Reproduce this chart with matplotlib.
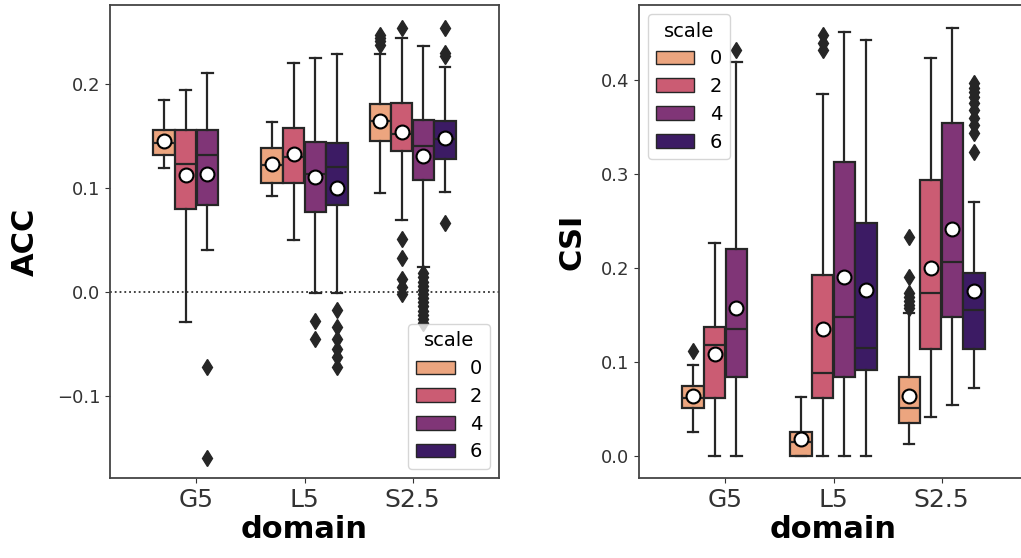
import colorsys
import matplotlib
matplotlib.use("Agg")
import matplotlib.pyplot as plt
from matplotlib.patches import Patch
from matplotlib import colormaps

# ---------------- data ----------------
domains = ["G5", "L5", "S2.5"]
scales = ["0", "2", "4", "6"]

# ACC statistics: rows = domain, columns = scale (None = no data)
acc_whislo = [[0.119, -0.029, 0.040, None],
              [0.092, 0.050, -0.001, -0.001],
              [0.095, 0.069, 0.024, 0.096]]
acc_q1 = [[0.132, 0.080, 0.084, None],
          [0.105, 0.105, 0.077, 0.084],
          [0.145, 0.136, 0.108, 0.128]]
acc_med = [[0.143, 0.123, 0.132, None],
           [0.122, 0.130, 0.113, 0.120],
           [0.164, 0.152, 0.140, 0.147]]
acc_q3 = [[0.156, 0.156, 0.156, None],
          [0.138, 0.158, 0.144, 0.143],
          [0.181, 0.182, 0.165, 0.164]]
acc_whishi = [[0.185, 0.194, 0.211, None],
              [0.163, 0.220, 0.225, 0.229],
              [0.229, 0.244, 0.237, 0.216]]
acc_mean = [[0.145, 0.112, 0.113, None],
            [0.123, 0.133, 0.111, 0.100],
            [0.164, 0.154, 0.131, 0.148]]
acc_fliers = [[[], [], [-0.072, -0.160], None],
              [[], [], [-0.028, -0.045],
               [-0.017, -0.034, -0.045, -0.055, -0.063, -0.072]],
              [[0.238, 0.241, 0.244, 0.247],
               [0.254, 0.051, 0.033, 0.012, 0.005, -0.002],
               [0.018, 0.014, 0.010, 0.006, 0.002, -0.002, -0.006, -0.010,
                -0.014, -0.018, -0.022, -0.026, -0.030],
               [0.254, 0.230, 0.227, 0.066]]]

# CSI statistics
csi_whislo = [[0.026, 0.0, 0.0, None],
              [0.0, 0.0, 0.0, 0.0],
              [0.013, 0.041, 0.054, 0.072]]
csi_q1 = [[0.051, 0.062, 0.084, None],
          [0.0, 0.062, 0.084, 0.092],
          [0.035, 0.114, 0.148, 0.114]]
csi_med = [[0.062, 0.118, 0.135, None],
           [0.015, 0.088, 0.148, 0.115],
           [0.051, 0.174, 0.206, 0.155]]
csi_q3 = [[0.074, 0.137, 0.220, None],
          [0.026, 0.193, 0.313, 0.248],
          [0.084, 0.294, 0.354, 0.195]]
csi_whishi = [[0.097, 0.227, 0.419, None],
              [0.063, 0.385, 0.451, 0.443],
              [0.152, 0.424, 0.456, 0.270]]
csi_mean = [[0.064, 0.109, 0.158, None],
            [0.018, 0.135, 0.191, 0.177],
            [0.064, 0.200, 0.242, 0.176]]
csi_fliers = [[[0.112], [], [0.432], None],
              [[], [0.432, 0.440, 0.448], [], []],
              [[0.233, 0.190, 0.173, 0.169, 0.165, 0.161, 0.157],
               [], [],
               [0.397, 0.392, 0.387, 0.382, 0.376, 0.368, 0.360, 0.352,
                0.344, 0.324]]]

# ---------------- style ----------------
def desat(c, prop=0.75):
    h, l, s = colorsys.rgb_to_hls(*c[:3])
    return colorsys.hls_to_rgb(h, l, s * prop)

cmap = colormaps["magma"]
palette = [desat(cmap(v)) for v in (0.8, 0.6, 0.4, 0.2)]
line_gray = "#262626"

fig = plt.figure(figsize=(10.21, 5.58), dpi=100)
W, H = 1021, 558
ax1 = fig.add_axes([110 / W, (H - 478) / H, 389 / W, 473 / H])
ax2 = fig.add_axes([639 / W, (H - 478) / H, 389 / W, 473 / H])


def draw(ax, whislo, q1, med, q3, whishi, mean, fliers):
    for di in range(len(domains)):
        for si in range(len(scales)):
            if med[di][si] is None:
                continue
            st = dict(whislo=whislo[di][si], q1=q1[di][si], med=med[di][si],
                      q3=q3[di][si], whishi=whishi[di][si],
                      mean=mean[di][si], fliers=fliers[di][si])
            pos = di + (si - 1.5) * 0.2
            ax.bxp([st], positions=[pos], widths=0.196, patch_artist=True,
                   showmeans=True, manage_ticks=False,
                   boxprops=dict(facecolor=palette[si], edgecolor=line_gray,
                                 linewidth=1.6),
                   medianprops=dict(color=line_gray, linewidth=1.6),
                   whiskerprops=dict(color=line_gray, linewidth=1.6),
                   capprops=dict(color=line_gray, linewidth=1.6),
                   flierprops=dict(marker="d", markerfacecolor=line_gray,
                                   markeredgecolor=line_gray, markersize=8),
                   meanprops=dict(marker="o", markerfacecolor="white",
                                  markeredgecolor="black", markersize=10,
                                  markeredgewidth=1.5))
    ax.set_xticks(range(len(domains)))
    ax.set_xticklabels(domains)
    ax.set_xlim(-0.8, 2.8)
    ax.tick_params(axis="x", labelsize=18, colors="#333333")
    ax.tick_params(axis="y", labelsize=13, colors="#333333")
    for sp in ax.spines.values():
        sp.set_color("#444444")
        sp.set_linewidth(1.3)
    ax.set_xlabel("domain", fontsize=22, fontweight="bold", labelpad=2)


draw(ax1, acc_whislo, acc_q1, acc_med, acc_q3, acc_whishi, acc_mean, acc_fliers)
draw(ax2, csi_whislo, csi_q1, csi_med, csi_q3, csi_whishi, csi_mean, csi_fliers)

ax1.axhline(0, ls=":", color="#333333", lw=1.3, zorder=0)
ax1.set_ylim(-0.179, 0.276)
ax1.set_yticks([-0.1, 0.0, 0.1, 0.2])
ax1.set_ylabel("ACC", fontsize=22, fontweight="bold", labelpad=12)

ax2.set_ylim(-0.0234, 0.48)
ax2.set_yticks([0.0, 0.1, 0.2, 0.3, 0.4])
ax2.set_ylabel("CSI", fontsize=22, fontweight="bold", labelpad=10)

handles = [Patch(facecolor=palette[i], edgecolor=line_gray, label=s)
           for i, s in enumerate(scales)]
ax1.legend(handles=handles, title="scale", loc="lower right", fontsize=14,
           title_fontsize=14, labelspacing=0.45, borderaxespad=0.45)
ax2.legend(handles=handles, title="scale", loc="upper left", fontsize=14,
           title_fontsize=14, labelspacing=0.45, borderaxespad=0.45)

fig.savefig("out.png", dpi=100)
